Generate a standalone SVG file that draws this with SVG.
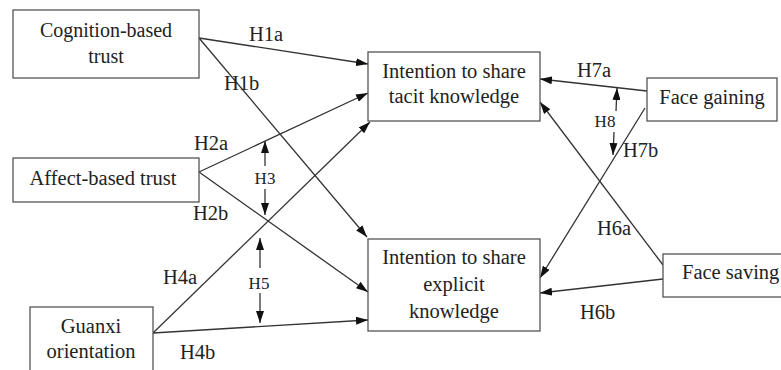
<svg xmlns="http://www.w3.org/2000/svg" width="781" height="370" viewBox="0 0 781 370">
<style>
.box{fill:#fff;stroke:#555;stroke-width:1.3}
.c{fill:none;stroke:#333;stroke-width:1.3;marker-end:url(#ah)}
</style>
<defs>
<marker id="ah" viewBox="0 0 12 8" refX="12" refY="4" markerWidth="12" markerHeight="8" markerUnits="userSpaceOnUse" orient="auto"><path d="M0,0 L12,4 L0,8 z" fill="#111"/></marker>
</defs>
<rect width="781" height="370" fill="#fff"/>
<g id="connectors">
<path class="c" d="M199,38 L368,64"/>
<path class="c" d="M199,38 L367,237"/>
<path class="c" d="M199,172 L368,93"/>
<path class="c" d="M199,172 L368,292"/>
<path class="c" d="M153,333 L370,122"/>
<path class="c" d="M153,333 L368,320"/>
<path class="c" d="M647,91 L540,79"/>
<path class="c" d="M645,108 L540,278"/>
<path class="c" d="M663,265 L540,102"/>
<path class="c" d="M663,279 L540,293"/>
<path class="c" d="M265,166 L265,141"/>
<path class="c" d="M265,189 L265,215"/>
<path class="c" d="M260,268 L260,238"/>
<path class="c" d="M260,293 L260,323"/>
<path class="c" d="M616,111 L617,88"/>
<path class="c" d="M614,132 L613,155"/>
</g>
<g id="labels" font-family="Liberation Serif, serif" font-size="20.5" fill="#222">
<text x="249" y="41">H1a</text>
<text x="224" y="90">H1b</text>
<text x="194" y="150">H2a</text>
<text x="193" y="220">H2b</text>
<text x="163" y="284">H4a</text>
<text x="180" y="359">H4b</text>
<text x="577" y="77">H7a</text>
<text x="623" y="157">H7b</text>
<text x="597" y="235">H6a</text>
<text x="580" y="319">H6b</text>
<text x="265" y="184" font-size="17" text-anchor="middle">H3</text>
<text x="259" y="289" font-size="17" text-anchor="middle">H5</text>
<text x="605" y="127" font-size="17" text-anchor="middle">H8</text>
</g>
<g id="cognition" font-family="Liberation Serif, serif" font-size="20" fill="#222" text-anchor="middle">
<rect class="box" x="13" y="10" width="186" height="68"/>
<text x="106" y="37">Cognition-based</text>
<text x="106" y="63">trust</text>
</g>
<g id="affect" font-family="Liberation Serif, serif" font-size="20.5" fill="#222" text-anchor="middle">
<rect class="box" x="13" y="158" width="186" height="44"/>
<text x="103" y="185">Affect-based trust</text>
</g>
<g id="guanxi" font-family="Liberation Serif, serif" font-size="20.5" fill="#222" text-anchor="middle">
<rect class="box" x="30" y="307" width="123" height="70"/>
<text x="91" y="333">Guanxi</text>
<text x="91" y="358">orientation</text>
</g>
<g id="tacit" font-family="Liberation Serif, serif" font-size="20.5" fill="#222" text-anchor="middle">
<rect class="box" x="368" y="52" width="172" height="69"/>
<text x="454" y="78">Intention to share</text>
<text x="454" y="103">tacit knowledge</text>
</g>
<g id="explicit" font-family="Liberation Serif, serif" font-size="20.5" fill="#222" text-anchor="middle">
<rect class="box" x="368" y="239" width="172" height="92"/>
<text x="454" y="264">Intention to share</text>
<text x="454" y="291">explicit</text>
<text x="454" y="318">knowledge</text>
</g>
<g id="facegaining" font-family="Liberation Serif, serif" font-size="20.5" fill="#222" text-anchor="middle">
<rect class="box" x="647" y="78" width="130" height="43"/>
<text x="712" y="104">Face gaining</text>
</g>
<g id="facesaving" font-family="Liberation Serif, serif" font-size="20.5" fill="#222">
<rect class="box" x="663" y="254" width="125" height="43"/>
<text x="682" y="279">Face saving</text>
</g>
</svg>
